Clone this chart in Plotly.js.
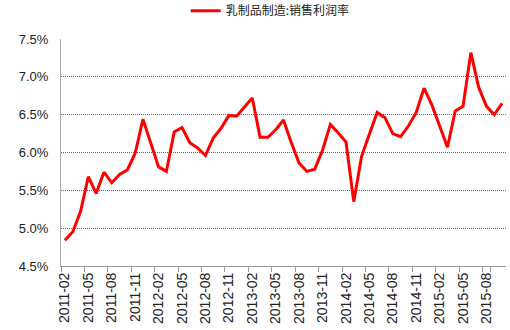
<!DOCTYPE html>
<html>
<head>
<meta charset="utf-8">
<script src="https://cdn.plot.ly/plotly-3.0.1.min.js"></script>
<style>html,body{margin:0;padding:0;background:#fff;}#chart{width:510px;height:330px;}</style>
</head>
<body>
<div id="chart"></div>
<script>
const seriesName = "乳制品制造:销售利润率";
const months = [
  "2011-02","2011-03","2011-04","2011-05","2011-06","2011-07","2011-08","2011-09","2011-10","2011-11","2011-12",
  "2012-01","2012-02","2012-03","2012-04","2012-05","2012-06","2012-07","2012-08","2012-09","2012-10","2012-11","2012-12",
  "2013-01","2013-02","2013-03","2013-04","2013-05","2013-06","2013-07","2013-08","2013-09","2013-10","2013-11","2013-12",
  "2014-01","2014-02","2014-03","2014-04","2014-05","2014-06","2014-07","2014-08","2014-09","2014-10","2014-11","2014-12",
  "2015-01","2015-02","2015-03","2015-04","2015-05","2015-06","2015-07","2015-08","2015-09","2015-10"
];
const margin = [
  4.84,4.95,5.22,5.68,5.46,5.74,5.60,5.71,5.77,5.99,6.44,
  6.12,5.81,5.75,6.27,6.33,6.13,6.06,5.96,6.19,6.32,6.49,6.48,
  6.60,6.72,6.20,6.20,6.30,6.43,6.13,5.86,5.75,5.78,6.03,6.37,
  6.26,6.14,5.35,5.95,6.24,6.53,6.46,6.25,6.21,6.35,6.53,6.85,
  6.63,6.36,6.07,6.55,6.61,7.32,6.86,6.61,6.50,6.65
];
const yTicks = [4.5,5.0,5.5,6.0,6.5,7.0,7.5];
const yTickText = ["4.5%","5.0%","5.5%","6.0%","6.5%","7.0%","7.5%"];
const xTicks = months.filter((m, i) => i % 3 === 0);

const fam = "Liberation Sans, Arial, sans-serif";

Plotly.newPlot("chart", [{
  type: "scatter",
  mode: "lines",
  x: months,
  y: margin,
  name: seriesName,
  line: {color: "#ff0000", width: 3}
}], {
  width: 510, height: 330,
  margin: {l: 61, r: 4, t: 39, b: 64, autoexpand: false},
  paper_bgcolor: "#fff", plot_bgcolor: "#fff",
  font: {family: fam, size: 12, color: "#222"},
  showlegend: true,
  legend: {
    orientation: "h", x: 0.47, xanchor: "center", y: 1.125, yanchor: "middle",
    font: {family: "Noto Sans CJK SC, sans-serif", size: 12, color: "#222"},
    bgcolor: "rgba(0,0,0,0)"
  },
  xaxis: {
    type: "category",
    range: [-0.5, months.length - 0.5],
    tickmode: "array", tickvals: xTicks, ticktext: xTicks,
    tickangle: -90,
    tickson: "boundaries",
    ticks: "outside", ticklen: 5, tickcolor: "#999", tickwidth: 1,
    showline: true, linecolor: "#999", linewidth: 1,
    showgrid: false, zeroline: false,
    tickfont: {family: fam, size: 14, color: "#222"}, fixedrange: true
  },
  yaxis: {
    range: [4.5, 7.5],
    tickmode: "array", tickvals: yTicks, ticktext: yTickText,
    showline: true, linecolor: "#aaa", linewidth: 1,
    showgrid: true, gridcolor: "#666", gridwidth: 1, griddash: "1px,1px",
    zeroline: false, ticks: "", ticklabelstandoff: 9,
    tickfont: {family: fam, size: 13, color: "#222"}, fixedrange: true
  }
}, {displayModeBar: false, staticPlot: true});
</script>
</body>
</html>
